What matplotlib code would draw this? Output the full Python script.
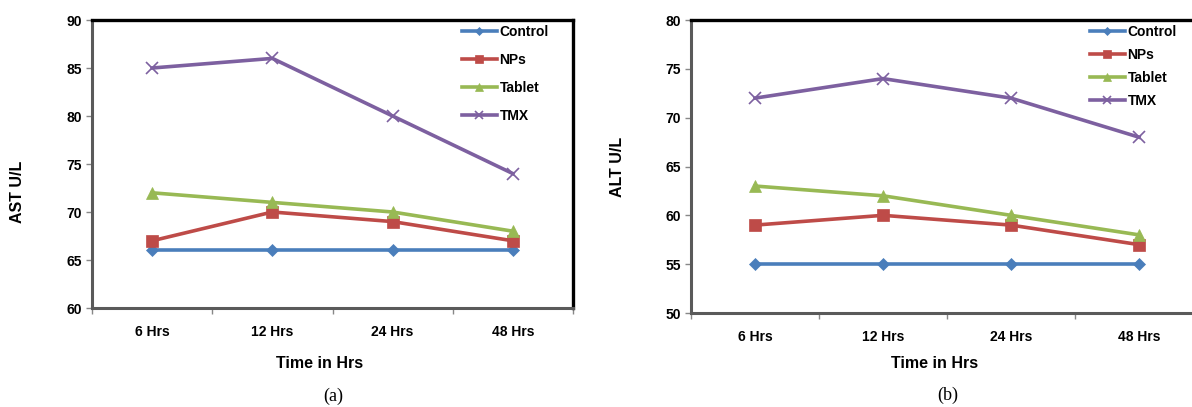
import matplotlib

matplotlib.use("Agg")

import matplotlib.pyplot as plt  # noqa: E402
import numpy as np  # noqa: E402
from matplotlib.ticker import FixedLocator, MultipleLocator  # noqa: E402

plt.rcParams["font.family"] = ["Liberation Sans", "DejaVu Sans"]

times = ["6 Hrs", "12 Hrs", "24 Hrs", "48 Hrs"]
series_names = ["Control", "NPs", "Tablet", "TMX"]

ast_control = [66, 66, 66, 66]
ast_nps = [67, 70, 69, 67]
ast_tablet = [72, 71, 70, 68]
ast_tmx = [85, 86, 80, 74]

alt_control = [55, 55, 55, 55]
alt_nps = [59, 60, 59, 57]
alt_tablet = [63, 62, 60, 58]
alt_tmx = [72, 74, 72, 68]

colors = ["#4A7EBB", "#BE4B48", "#98B954", "#7D60A0"]
markers = ["D", "s", "^", "x"]
marker_sizes = [6, 8.5, 8, 8]

W, H = 1192, 407


def fx(px):
    return px / W


def fy(py):
    return 1 - py / H


def draw_panel(fig, rect, series, ylim, ylabel, ylabel_xy, xlabel_xy, tag_xy, tag,
               legend_xy, legend_spacing):
    ax = fig.add_axes(rect)
    x = np.arange(len(times))
    for values, name, color, marker, ms in zip(series, series_names, colors, markers, marker_sizes):
        ax.plot(x, values, color=color, linewidth=2.6, marker=marker, markersize=ms,
                markeredgewidth=1.2 if marker == "x" else 0.5,
                markeredgecolor=color, label=name, clip_on=False)

    ax.set_xlim(-0.5, len(times) - 0.5)
    ax.set_ylim(*ylim)
    ax.yaxis.set_major_locator(MultipleLocator(5))
    ax.set_xticks(x)
    ax.set_xticklabels(times)
    ax.xaxis.set_minor_locator(FixedLocator(np.arange(-0.5, len(times), 1.0)))
    ax.tick_params(axis="x", which="major", length=0, pad=12, labelsize=10)
    ax.tick_params(axis="x", which="minor", length=4, width=1, color="#888888",
                   direction="out")
    ax.tick_params(axis="y", length=4, width=1, color="#888888", direction="out",
                   pad=3, labelsize=10)
    for lbl in ax.get_xticklabels() + ax.get_yticklabels():
        lbl.set_fontweight("bold")

    ax.spines["left"].set_color("#5A5A5A")
    ax.spines["bottom"].set_color("#5A5A5A")
    ax.spines["left"].set_linewidth(2.2)
    ax.spines["bottom"].set_linewidth(2.2)
    ax.spines["top"].set_color("black")
    ax.spines["right"].set_color("black")
    ax.spines["top"].set_linewidth(2.4)
    ax.spines["right"].set_linewidth(2.4)

    fig.text(fx(ylabel_xy[0]), fy(ylabel_xy[1]), ylabel, rotation=90, fontsize=11.5,
             fontweight="bold", ha="center", va="center")
    fig.text(fx(xlabel_xy[0]), fy(xlabel_xy[1]), "Time in Hrs", fontsize=11.5,
             fontweight="bold", ha="center", va="center")
    fig.text(fx(tag_xy[0]), fy(tag_xy[1]), tag, fontsize=13,
             family="Liberation Serif", ha="center", va="center")

    leg = ax.legend(loc="upper left", bbox_to_anchor=(fx(legend_xy[0]), fy(legend_xy[1])),
                    bbox_transform=fig.transFigure, frameon=False, fontsize=10,
                    borderpad=0, borderaxespad=0, handlelength=2.5, handletextpad=0.2,
                    labelspacing=legend_spacing, markerscale=0.75)
    for text in leg.get_texts():
        text.set_fontweight("bold")
    return ax


fig = plt.figure(figsize=(W / 100, H / 100), dpi=100)

draw_panel(
    fig,
    [fx(92), fy(308), fx(573 - 92), (308 - 20) / H],
    [ast_control, ast_nps, ast_tablet, ast_tmx],
    (60, 90),
    "AST U/L",
    (18, 192),
    (320, 363),
    (333, 396),
    "(a)",
    (462, 25),
    1.0,
)

draw_panel(
    fig,
    [fx(691), fy(313), fx(1203 - 691), (313 - 20) / H],
    [alt_control, alt_nps, alt_tablet, alt_tmx],
    (50, 80),
    "ALT U/L",
    (618, 167),
    (935, 363),
    (948, 395),
    "(b)",
    (1090, 25),
    0.65,
)

fig.savefig("out.png", dpi=100)
